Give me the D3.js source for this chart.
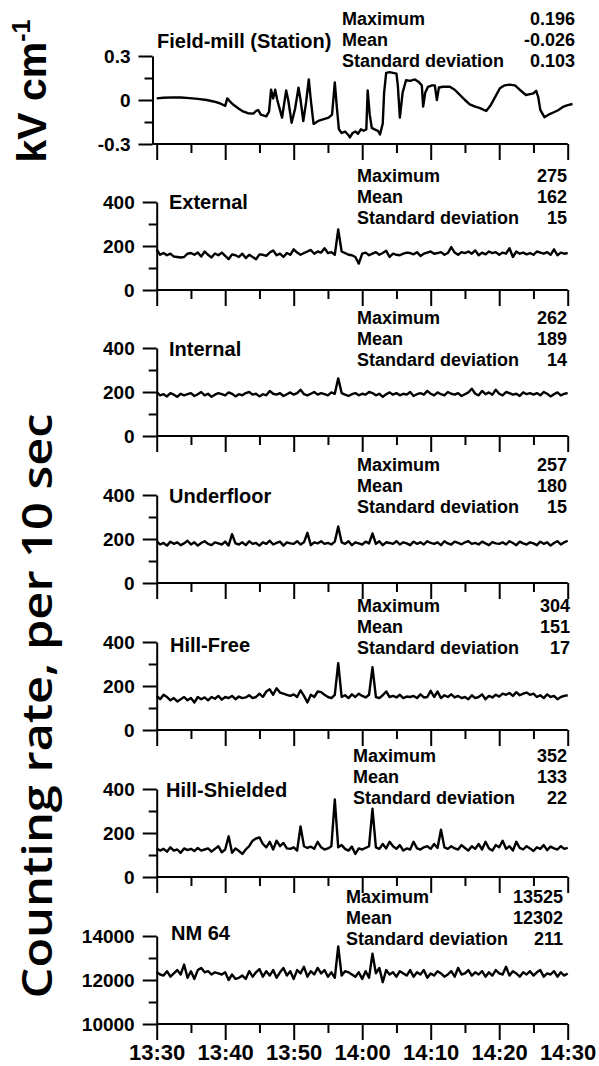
<!DOCTYPE html>
<html>
<head>
<meta charset="utf-8">
<script src="https://cdnjs.cloudflare.com/ajax/libs/d3/7.8.5/d3.min.js"></script>
<style>
	body { margin: 0; background: #fff; }
	svg { display: block; font-family: Arial, "Liberation Sans", sans-serif; }
	.axis path, .axis line { stroke: #000; stroke-width: 2; }
	.axis text { font-size: 19px; font-weight: bold; fill: #000; font-family: Arial, "Liberation Sans", sans-serif; }
	.xlab text { font-size: 22px; }
	.series { fill: none; stroke: #000; stroke-width: 2.4; stroke-linejoin: round; }
	.ptitle { font-size: 20px; font-weight: bold; }
	.stat { font-size: 18px; font-weight: bold; }
</style>
</head>
<body>
<svg width="599" height="1066"></svg>
<script>

// minutes after 13:30
var xMajor = [0, 10, 20, 30, 40, 50, 60];
var xMinor = [5, 15, 25, 35, 45, 55];
var xTickLabels = ["13:30", "13:40", "13:50", "14:00", "14:10", "14:20", "14:30"];

// field mill (kV/cm)
var fieldTime = [0, 1, 2.4, 3.5, 4.8, 6, 7.3, 8.3, 9.2, 10, 10.3, 10.8, 11.2, 12, 12.6, 13.3, 14.1, 14.5, 14.8, 15.2,
	16, 16.4, 16.7, 17, 17.3, 17.6, 18.3, 18.9, 19.2, 19.7, 20.2, 20.7, 21, 21.4, 21.8, 22.2, 22.5, 22.9, 23.7, 24.4,
	25.1, 25.6, 26, 26.3, 26.6, 27, 27.5, 28, 28.2, 28.6, 29, 29.4, 29.8, 30.2, 30.6, 30.8, 31.1, 31.4, 31.8, 32.3,
	32.6, 33, 33.2, 33.5, 34, 34.5, 35, 35.2, 35.5, 35.9, 36.4, 37, 37.7, 38.2, 38.7, 38.9, 39.2, 39.6, 40.2, 40.6,
	40.9, 41.2, 41.8, 42.8, 43.5, 44, 45, 45.7, 46.5, 47.2, 48.1, 48.7, 49.4, 50.1, 50.8, 51.5, 52.3, 53, 53.9, 54.5,
	55, 55.4, 55.7, 56, 56.6, 57.2, 57.9, 58.6, 59.4, 60, 60.7];
var fieldValue = [0.011, 0.015, 0.018, 0.017, 0.013, 0.008, 0, -0.01, -0.022, -0.04, 0.011, -0.015, -0.033, -0.06, -0.078, -0.09, -0.093, -0.075, -0.068, -0.1,
	-0.111, -0.08, 0.07, 0.01, 0.07, 0, -0.12, 0.065, 0, -0.155, -0.06, 0.084, 0, -0.143, -0.02, 0.14, 0, -0.163, -0.14, -0.13,
	-0.12, -0.1, 0.12, -0.05, -0.2, -0.225, -0.215, -0.24, -0.255, -0.225, -0.215, -0.23, -0.2, -0.21, -0.2, 0.065, -0.1, -0.19, -0.2, -0.21,
	-0.235, -0.16, 0.05, 0.185, 0.19, 0.185, 0.18, 0.1, -0.12, 0.05, 0.135, 0.13, 0.14, 0.125, 0.1, -0.045, 0.05, 0.09, 0.1, 0.1,
	0, 0.085, 0.09, 0.09, 0.07, 0.047, 0, -0.03, -0.045, -0.055, -0.075, -0.04, 0.02, 0.08, 0.1, 0.105, 0.1, 0.07, 0.034, 0.04,
	0.045, 0.063, 0.02, -0.067, -0.117, -0.1, -0.085, -0.07, -0.045, -0.035, -0.027];

// counts per 10 sec, one reading every 30 s from 13:30 to 14:30
var sampleStep = 0.5;
var external = [185, 160, 168, 158, 165, 152, 150, 148, 150, 165, 168, 160, 170, 152, 175, 160, 148, 166, 158, 170,
	155, 140, 162, 158, 150, 165, 145, 160, 150, 140, 162, 160, 155, 170, 180, 158, 165, 150, 168, 160,
	185, 170, 160, 168, 175, 182, 165, 175, 170, 190, 168, 172, 160, 275, 175, 168, 160, 158, 150, 120,
	165, 170, 158, 165, 172, 160, 168, 178, 150, 165, 160, 158, 165, 170, 168, 162, 172, 155, 165, 170,
	175, 165, 168, 172, 160, 168, 195, 170, 160, 172, 168, 175, 165, 180, 158, 170, 162, 175, 168, 172,
	160, 170, 165, 190, 150, 175, 165, 170, 162, 168, 160, 175, 170, 165, 172, 160, 185, 158, 170, 165, 168];
var internal = [200, 185, 190, 180, 195, 188, 178, 192, 185, 190, 195, 182, 190, 200, 185, 192, 178, 188, 195, 190,
	185, 198, 192, 180, 190, 185, 195, 200, 188, 192, 180, 190, 185, 205, 192, 188, 195, 182, 190, 198,
	188, 195, 210, 190, 185, 192, 200, 188, 195, 190, 185, 198, 192, 262, 195, 188, 182, 190, 195, 185,
	192, 188, 200, 195, 185, 192, 178, 190, 198, 188, 195, 185, 192, 188, 200, 182, 190, 195, 188, 205,
	192, 185, 198, 190, 185, 200, 192, 188, 195, 182, 190, 198, 215, 192, 185, 205, 190, 198, 188, 210,
	192, 185, 200, 195, 188, 192, 182, 198, 190, 195, 188, 195, 185, 200, 192, 180, 190, 198, 185, 192, 195];
var underfloor = [190, 175, 182, 170, 188, 178, 185, 172, 180, 192, 175, 185, 170, 182, 190, 178, 172, 185, 180, 175,
	188, 170, 222, 180, 175, 185, 172, 190, 178, 182, 170, 185, 178, 192, 175, 182, 188, 170, 185, 180,
	178, 190, 175, 185, 228, 172, 185, 180, 190, 178, 182, 175, 188, 257, 185, 178, 190, 172, 185, 180,
	175, 188, 180, 225, 178, 190, 172, 185, 182, 178, 190, 175, 185, 180, 172, 188, 178, 185, 175, 190,
	182, 178, 185, 172, 190, 180, 175, 188, 182, 176, 185, 190, 178, 182, 175, 188, 180, 172, 186, 180,
	178, 185, 175, 190, 182, 172, 188, 180, 175, 185, 180, 172, 188, 178, 185, 170, 182, 190, 175, 185, 192];
var hillFree = [155, 140, 160, 150, 135, 145, 130, 140, 150, 135, 145, 125, 150, 140, 148, 135, 150, 142, 155, 138,
	150, 145, 155, 140, 152, 145, 148, 158, 145, 150, 165, 150, 175, 185, 160, 190, 170, 165, 160, 155,
	162, 150, 180, 155, 125, 160, 150, 175, 172, 160, 150, 145, 160, 304, 150, 158, 145, 162, 150, 165,
	155, 148, 160, 285, 150, 145, 158, 175, 150, 155, 148, 160, 145, 152, 150, 155, 145, 162, 148, 150,
	178, 150, 175, 145, 158, 150, 162, 148, 155, 145, 150, 140, 158, 145, 150, 162, 140, 155, 148, 160,
	152, 165, 160, 168, 155, 172, 158, 165, 170, 160, 165, 150, 158, 145, 162, 150, 155, 140, 150, 155, 158];
var hillShielded = [130, 120, 128, 115, 135, 120, 125, 110, 130, 122, 128, 118, 132, 120, 125, 130, 115, 128, 140, 112,
	125, 185, 110, 130, 118, 105, 125, 140, 165, 175, 180, 150, 135, 160, 125, 165, 140, 155, 130, 128,
	135, 120, 230, 140, 132, 138, 128, 160, 135, 125, 130, 140, 352, 135, 145, 128, 120, 138, 105, 130,
	125, 132, 140, 310, 135, 128, 150, 130, 160, 140, 128, 145, 120, 130, 125, 160, 130, 125, 135, 140,
	128, 150, 132, 215, 135, 128, 140, 130, 125, 145, 132, 120, 140, 128, 150, 125, 160, 130, 120, 145,
	135, 165, 128, 140, 120, 160, 132, 125, 140, 130, 118, 135, 128, 145, 122, 138, 130, 125, 140, 128, 132];
var nm64 = [12350, 12250, 12200, 12400, 12150, 12300, 12450, 12250, 12700, 12100, 12400, 12050, 12450, 12550, 12350, 12400, 12250, 12350, 12300, 12250,
	12350, 12000, 12250, 12050, 12100, 12200, 12050, 12400, 12150, 12350, 12500, 12150, 12400, 12200, 12450, 12100, 12350, 12550, 12200, 12400,
	12050, 12450, 12300, 12600, 12150, 12400, 12250, 12550, 12300, 12450, 12150, 12350, 12100, 13525, 12200, 12400, 12350, 12250, 12150, 12350,
	12050, 12400, 12100, 13200, 12300, 12550, 11900, 12450, 12250, 12350, 12150, 12400, 12300, 12200, 12450, 12150, 12350, 12250, 12450, 12100,
	12300, 12200, 12400, 12300, 12150, 12250, 12400, 12150, 12550, 12250, 12300, 12450, 12200, 12350, 12250, 12400, 12150, 12350, 12200, 12450,
	12300, 12250, 12600, 12200, 12400, 12300, 12150, 12350, 12250, 12400, 12200, 12350, 12450, 12150, 12300, 12250, 12400, 12150, 12350, 12200, 12300];

var panelNames = ["Field-mill (Station)", "External", "Internal", "Underfloor", "Hill-Free", "Hill-Shielded", "NM 64"];
var statMaximum = ["0.196", "275", "262", "257", "304", "352", "13525"];
var statMean = ["-0.026", "162", "189", "180", "151", "133", "12302"];
var statStd = ["0.103", "15", "14", "15", "17", "22", "211"];
var statLabels = ["Maximum", "Mean", "Standard deviation"];

var countMajor = [0, 200, 400], countMinor = [100, 300];
var fieldMajor = [-0.3, 0, 0.3], fieldMinor = [-0.15, 0.15];
var nmMajor = [10000, 12000, 14000], nmMinor = [11000, 13000];

// layout (pixels)
var panelBottom = [144, 290, 436, 583, 730, 877, 1024];
var panelH = 88;
var titlePos = [[157, 48], [169, 209], [169, 356], [169, 503], [170, 652], [166, 797], [171, 940]];
var statPos = [[342, 25, 575], [357, 182, 567], [357, 324, 567], [357, 471, 567], [357, 612, 570], [353, 762, 567], [346, 903, 563]];
var statGap = 21;

var svg = d3.select("svg");
var x = d3.scaleLinear().domain([0, 60]).range([156.7, 567.7]);

var seriesOf = function(values) {
	return values.map(function(v, i) { return [i * sampleStep, v]; });
};

var panels = [
	{ domain: [-0.3, 0.3], major: fieldMajor, minor: fieldMinor, points: fieldTime.map(function(t, i) { return [t, fieldValue[i]]; }) },
	{ domain: [0, 400], major: countMajor, minor: countMinor, points: seriesOf(external) },
	{ domain: [0, 400], major: countMajor, minor: countMinor, points: seriesOf(internal) },
	{ domain: [0, 400], major: countMajor, minor: countMinor, points: seriesOf(underfloor) },
	{ domain: [0, 400], major: countMajor, minor: countMinor, points: seriesOf(hillFree) },
	{ domain: [0, 400], major: countMajor, minor: countMinor, points: seriesOf(hillShielded) },
	{ domain: [10000, 14000], major: nmMajor, minor: nmMinor, points: seriesOf(nm64) }
];

var fmtY = function(d) {
	if (d === 0) return "0";
	if (Math.abs(d) < 1) return (d < 0 ? "-" : "") + Math.abs(d).toFixed(1);
	return String(d);
};

panels.forEach(function(p, k) {
	var bottom = panelBottom[k];
	var axisX = k === 0 ? 152.5 : 156.7;
	var last = k === panels.length - 1;
	var y = d3.scaleLinear().domain(p.domain).range([bottom, bottom - panelH]);
	var g = svg.append("g");

	var xa = g.append("g")
		.attr("class", "axis" + (last ? " xlab" : ""))
		.attr("transform", "translate(0," + bottom + ")")
		.call(d3.axisBottom(x).tickValues(xMajor).tickSize(16).tickSizeOuter(0).tickPadding(4)
			.tickFormat(function(d, i) { return last ? xTickLabels[i] : ""; }));
	xa.select(".domain").attr("d", "M" + axisX + ",0H" + x.range()[1]);
	g.append("g")
		.attr("class", "axis")
		.attr("transform", "translate(0," + bottom + ")")
		.call(d3.axisBottom(x).tickValues(xMinor).tickSize(9).tickSizeOuter(0).tickFormat(""))
		.select(".domain").remove();

	g.append("g")
		.attr("class", "axis")
		.attr("transform", "translate(" + axisX + ",0)")
		.call(d3.axisLeft(y).tickValues(p.major).tickSize(14).tickSizeOuter(0).tickPadding(8).tickFormat(fmtY));
	g.append("g")
		.attr("class", "axis")
		.attr("transform", "translate(" + axisX + ",0)")
		.call(d3.axisLeft(y).tickValues(p.minor).tickSize(8).tickSizeOuter(0).tickFormat(""))
		.select(".domain").remove();

	var line = d3.line()
		.x(function(d) { return x(d[0]); })
		.y(function(d) { return y(d[1]); });
	g.append("path")
		.datum(p.points)
		.attr("class", "series")
		.attr("d", line);

	g.append("text")
		.attr("class", "ptitle")
		.attr("x", titlePos[k][0])
		.attr("y", titlePos[k][1])
		.text(panelNames[k]);

	var vals = [statMaximum[k], statMean[k], statStd[k]];
	statLabels.forEach(function(s, j) {
		g.append("text")
			.attr("class", "stat")
			.attr("x", statPos[k][0])
			.attr("y", statPos[k][1] + j * statGap)
			.text(s);
		g.append("text")
			.attr("class", "stat")
			.attr("x", statPos[k][2])
			.attr("y", statPos[k][1] + j * statGap)
			.attr("text-anchor", "end")
			.text(vals[j]);
	});
});

// axis titles
var kv = svg.append("text")
	.attr("transform", "translate(46,91) rotate(-90)")
	.attr("text-anchor", "middle")
	.style("font-size", "41px")
	.style("font-weight", "bold");
kv.append("tspan").text("kV cm");
kv.append("tspan").attr("dy", -16).style("font-size", "25px").text("-1");

svg.append("text")
	.attr("transform", "translate(52,706) rotate(-90)")
	.attr("text-anchor", "middle")
	.attr("textLength", 585)
	.attr("lengthAdjust", "spacingAndGlyphs")
	.style("font-family", "'Open Sans', 'Noto Sans', sans-serif")
	.style("font-size", "42px")
	.style("font-weight", "600")
	.text("Counting rate, per 10 sec");

</script>
</body>
</html>
